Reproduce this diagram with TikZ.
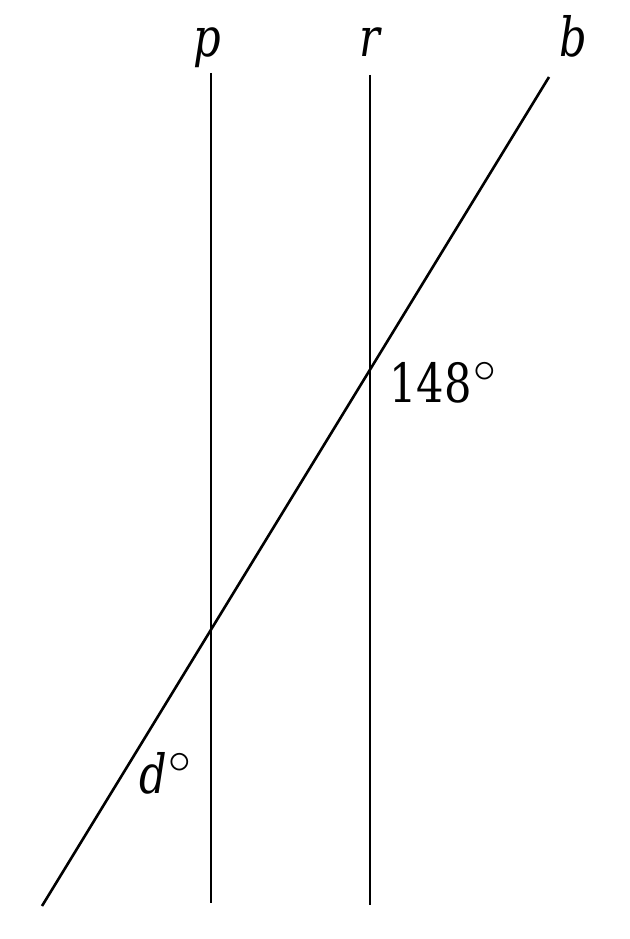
\RequirePackage{fix-cm}
\documentclass[tikz,border=0pt]{standalone}
\usepackage{fontspec}
\usepackage{graphicx}
\setmainfont{DejaVu Serif}
\tikzset{
  lineseg/.style={draw=black, line width=2.6pt},
  lbl/.style={inner sep=0pt, font=\fontsize{54}{60}\selectfont}
}
\newcommand{\cond}[1]{\scalebox{0.8}[1]{#1}}
\newcommand{\degr}{\kern2pt\raisebox{-4pt}{\scalebox{1.2}{$^\circ$}}}
\begin{document}
\begin{tikzpicture}[x=1pt,y=-1pt]
\useasboundingbox (0,0) rectangle (629,939);
\coordinate (p1) at (211,73);
\coordinate (p2) at (211,903);
\coordinate (r1) at (370,75);
\coordinate (r2) at (370,905);
\coordinate (b1) at (42,906);
\coordinate (b2) at (549,77);
\draw[lineseg] (p1) -- (p2);
\draw[lineseg] (r1) -- (r2);
\draw[lineseg] (b1) -- (b2);
\node[lbl, anchor=base] (lp) at (207,57) {\cond{\itshape p}};
\node[lbl, anchor=base] (lr) at (370,57) {\cond{\itshape r}};
\node[lbl, anchor=base] (lb) at (573,57) {\cond{\itshape b}};
\node[lbl, anchor=base west] (a148) at (389,402) {\cond{148}\degr};
\node[lbl, anchor=base west] (ad) at (139,793) {\cond{\itshape d}\degr};
\end{tikzpicture}
\end{document}
